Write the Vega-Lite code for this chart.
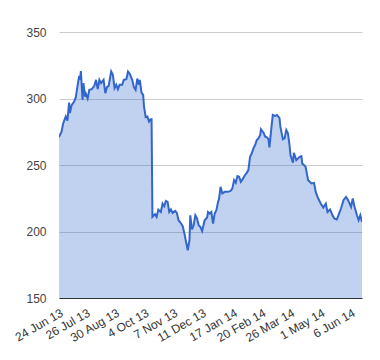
{
  "$schema": "https://vega.github.io/schema/vega-lite/v6.json",
  "autosize": {"type": "none"},
  "width": 303,
  "height": 266,
  "padding": {"left": 59, "top": 32, "right": 18, "bottom": 62},
  "background": "white",
  "config": {"view": {"stroke": null}, "font": "Liberation Sans"},
  "data": {"values": [
    {"date": "2013-06-24", "price": 271},
    {"date": "2013-06-27", "price": 275},
    {"date": "2013-06-29", "price": 281.4},
    {"date": "2013-07-02", "price": 286.4},
    {"date": "2013-07-04", "price": 283.3},
    {"date": "2013-07-06", "price": 297},
    {"date": "2013-07-07", "price": 289},
    {"date": "2013-07-09", "price": 295},
    {"date": "2013-07-12", "price": 297.7},
    {"date": "2013-07-14", "price": 301},
    {"date": "2013-07-16", "price": 309.5},
    {"date": "2013-07-18", "price": 317},
    {"date": "2013-07-19", "price": 314},
    {"date": "2013-07-20", "price": 320.6},
    {"date": "2013-07-22", "price": 299},
    {"date": "2013-07-23", "price": 311.5},
    {"date": "2013-07-25", "price": 301.4},
    {"date": "2013-07-26", "price": 303.5},
    {"date": "2013-07-28", "price": 300},
    {"date": "2013-07-30", "price": 306.5},
    {"date": "2013-08-02", "price": 307},
    {"date": "2013-08-05", "price": 309.5},
    {"date": "2013-08-07", "price": 314},
    {"date": "2013-08-09", "price": 307},
    {"date": "2013-08-11", "price": 314},
    {"date": "2013-08-13", "price": 311.5},
    {"date": "2013-08-16", "price": 314},
    {"date": "2013-08-18", "price": 304},
    {"date": "2013-08-20", "price": 308.5},
    {"date": "2013-08-22", "price": 309.5},
    {"date": "2013-08-25", "price": 320.3},
    {"date": "2013-08-27", "price": 317.8},
    {"date": "2013-08-29", "price": 307.8},
    {"date": "2013-08-31", "price": 310.3},
    {"date": "2013-09-02", "price": 307},
    {"date": "2013-09-04", "price": 310.3},
    {"date": "2013-09-07", "price": 310.3},
    {"date": "2013-09-09", "price": 314},
    {"date": "2013-09-12", "price": 314.5},
    {"date": "2013-09-14", "price": 320.3},
    {"date": "2013-09-16", "price": 318.6},
    {"date": "2013-09-19", "price": 314},
    {"date": "2013-09-21", "price": 308.5},
    {"date": "2013-09-23", "price": 306.5},
    {"date": "2013-09-25", "price": 315},
    {"date": "2013-09-27", "price": 310.3},
    {"date": "2013-09-28", "price": 314},
    {"date": "2013-09-30", "price": 304.5},
    {"date": "2013-10-02", "price": 302.7},
    {"date": "2013-10-03", "price": 294},
    {"date": "2013-10-05", "price": 286},
    {"date": "2013-10-07", "price": 286.4},
    {"date": "2013-10-09", "price": 282.6},
    {"date": "2013-10-11", "price": 284.4},
    {"date": "2013-10-12", "price": 284.4},
    {"date": "2013-10-13", "price": 211},
    {"date": "2013-10-16", "price": 213},
    {"date": "2013-10-18", "price": 211},
    {"date": "2013-10-20", "price": 216.5},
    {"date": "2013-10-23", "price": 214.7},
    {"date": "2013-10-25", "price": 221},
    {"date": "2013-10-27", "price": 219},
    {"date": "2013-10-29", "price": 223},
    {"date": "2013-10-31", "price": 222.3},
    {"date": "2013-11-02", "price": 214.7},
    {"date": "2013-11-04", "price": 216.5},
    {"date": "2013-11-06", "price": 214},
    {"date": "2013-11-09", "price": 215.5},
    {"date": "2013-11-11", "price": 214},
    {"date": "2013-11-13", "price": 208.5},
    {"date": "2013-11-16", "price": 206},
    {"date": "2013-11-18", "price": 204},
    {"date": "2013-11-20", "price": 198.5},
    {"date": "2013-11-22", "price": 192.1},
    {"date": "2013-11-24", "price": 185.9},
    {"date": "2013-11-26", "price": 193.4},
    {"date": "2013-11-27", "price": 212.2},
    {"date": "2013-11-29", "price": 201.5},
    {"date": "2013-12-01", "price": 204.7},
    {"date": "2013-12-03", "price": 212.2},
    {"date": "2013-12-05", "price": 209.8},
    {"date": "2013-12-07", "price": 204.7},
    {"date": "2013-12-09", "price": 203.4},
    {"date": "2013-12-11", "price": 200.4},
    {"date": "2013-12-12", "price": 203},
    {"date": "2013-12-14", "price": 208.5},
    {"date": "2013-12-17", "price": 210.5},
    {"date": "2013-12-18", "price": 214.7},
    {"date": "2013-12-20", "price": 213.5},
    {"date": "2013-12-22", "price": 214.7},
    {"date": "2013-12-24", "price": 206},
    {"date": "2013-12-26", "price": 213.5},
    {"date": "2013-12-28", "price": 216},
    {"date": "2013-12-30", "price": 222.3},
    {"date": "2013-12-31", "price": 224.1},
    {"date": "2014-01-02", "price": 233.6},
    {"date": "2014-01-04", "price": 228.6},
    {"date": "2014-01-07", "price": 229.8},
    {"date": "2014-01-11", "price": 229.8},
    {"date": "2014-01-14", "price": 230.6},
    {"date": "2014-01-16", "price": 232.4},
    {"date": "2014-01-18", "price": 238.6},
    {"date": "2014-01-20", "price": 236.6},
    {"date": "2014-01-22", "price": 241.7},
    {"date": "2014-01-24", "price": 241.2},
    {"date": "2014-01-26", "price": 237.4},
    {"date": "2014-01-28", "price": 239.2},
    {"date": "2014-01-31", "price": 242.5},
    {"date": "2014-02-02", "price": 244.1},
    {"date": "2014-02-04", "price": 246.2},
    {"date": "2014-02-06", "price": 256.2},
    {"date": "2014-02-08", "price": 258.8},
    {"date": "2014-02-10", "price": 262.5},
    {"date": "2014-02-12", "price": 265},
    {"date": "2014-02-14", "price": 268.8},
    {"date": "2014-02-16", "price": 270},
    {"date": "2014-02-18", "price": 272.6},
    {"date": "2014-02-19", "price": 276.9},
    {"date": "2014-02-22", "price": 274.3},
    {"date": "2014-02-24", "price": 271.3},
    {"date": "2014-02-26", "price": 270.8},
    {"date": "2014-02-28", "price": 269.3},
    {"date": "2014-03-01", "price": 263.3},
    {"date": "2014-03-03", "price": 275.8},
    {"date": "2014-03-05", "price": 287.6},
    {"date": "2014-03-08", "price": 286.9},
    {"date": "2014-03-10", "price": 287.6},
    {"date": "2014-03-13", "price": 285.2},
    {"date": "2014-03-14", "price": 278.8},
    {"date": "2014-03-17", "price": 269.3},
    {"date": "2014-03-19", "price": 270},
    {"date": "2014-03-21", "price": 276.3},
    {"date": "2014-03-23", "price": 273.9},
    {"date": "2014-03-25", "price": 264.3},
    {"date": "2014-03-26", "price": 257.5},
    {"date": "2014-03-29", "price": 251.7},
    {"date": "2014-03-30", "price": 259.2},
    {"date": "2014-04-02", "price": 253.7},
    {"date": "2014-04-04", "price": 255},
    {"date": "2014-04-06", "price": 256.2},
    {"date": "2014-04-08", "price": 256.7},
    {"date": "2014-04-09", "price": 251.2},
    {"date": "2014-04-11", "price": 250},
    {"date": "2014-04-13", "price": 248.7},
    {"date": "2014-04-16", "price": 238.6},
    {"date": "2014-04-20", "price": 236.2},
    {"date": "2014-04-23", "price": 236.6},
    {"date": "2014-04-25", "price": 229.8},
    {"date": "2014-04-28", "price": 224.8},
    {"date": "2014-05-01", "price": 221},
    {"date": "2014-05-04", "price": 218},
    {"date": "2014-05-07", "price": 221},
    {"date": "2014-05-09", "price": 214.7},
    {"date": "2014-05-12", "price": 216.5},
    {"date": "2014-05-15", "price": 212.2},
    {"date": "2014-05-17", "price": 209.8},
    {"date": "2014-05-20", "price": 209},
    {"date": "2014-05-22", "price": 212.2},
    {"date": "2014-05-25", "price": 217.3},
    {"date": "2014-05-28", "price": 223.6},
    {"date": "2014-05-31", "price": 226},
    {"date": "2014-06-02", "price": 224.1},
    {"date": "2014-06-04", "price": 221.5},
    {"date": "2014-06-06", "price": 218.5},
    {"date": "2014-06-08", "price": 224.8},
    {"date": "2014-06-10", "price": 219},
    {"date": "2014-06-13", "price": 212.2},
    {"date": "2014-06-15", "price": 208.5},
    {"date": "2014-06-17", "price": 212.2},
    {"date": "2014-06-19", "price": 207.2}
  ]},
  "encoding": {
    "x": {
      "field": "date", "type": "temporal",
      "scale": {"domain": ["2013-06-24", "2014-06-19"], "nice": false},
      "axis": {
        "title": null,
        "values": ["2013-06-24", "2013-07-26", "2013-08-30", "2013-10-04", "2013-11-07", "2013-12-11", "2014-01-17", "2014-02-20", "2014-03-26", "2014-05-01", "2014-06-06"],
        "format": "%-d %b %y",
        "labelAngle": -30,
        "labelFontSize": 12,
        "labelColor": "#333",
        "labelPadding": 9,
        "ticks": false,
        "grid": false,
        "domainColor": "#333",
        "domainWidth": 1,
        "labelOverlap": false,
        "labelFlush": false
      }
    },
    "y": {
      "field": "price", "type": "quantitative",
      "scale": {"domain": [150, 350], "zero": false, "nice": false},
      "axis": {
        "title": null,
        "values": [150, 200, 250, 300, 350],
        "labelFontSize": 12,
        "labelColor": "#444",
        "labelPadding": 13,
        "ticks": false,
        "domain": false,
        "gridColor": "#cccccc",
        "gridWidth": 1
      }
    }
  },
  "layer": [
    {"mark": {"type": "area", "color": "#3366cc", "fillOpacity": 0.3, "clip": true}},
    {"mark": {"type": "line", "color": "#3366cc", "strokeWidth": 2, "clip": true}}
  ]
}
